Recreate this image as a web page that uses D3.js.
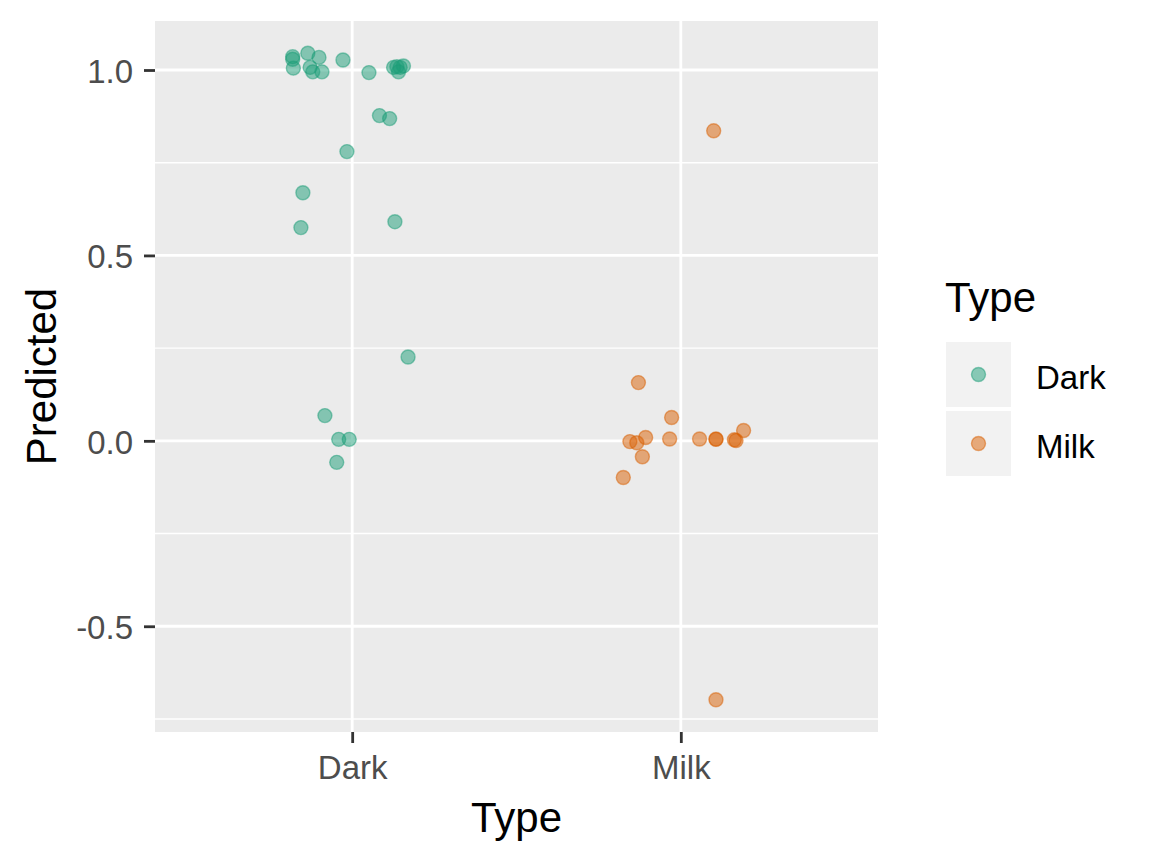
<!DOCTYPE html>
<html>
<head>
<meta charset="utf-8">
<script src="https://cdn.jsdelivr.net/npm/d3@7"></script>
<style>
  body { margin: 0; background: #fff; }
  text { font-family: "Liberation Sans", Arial, sans-serif; }
</style>
</head>
<body>
<div class="main"></div>
<script>
// data
var categories = ['Dark', 'Milk']
var colors = ['#1B9E77', '#D95F02']

// Dark: predicted values and horizontal jitter (in category units)
var darkPred = [1.036, 1.029, 1.005, 1.045, 1.034, 1.007, 0.995, 0.995, 1.027, 0.993,
                1.009, 1.007, 1.011, 0.995, 1.007, 0.877, 0.869, 0.780, 0.669, 0.575,
                0.591, 0.226, 0.068, 0.004, 0.004, -0.058]
var darkJitter = [-0.181, -0.181, -0.179, -0.135, -0.101, -0.128, -0.120, -0.092, -0.028, 0.051,
                  0.136, 0.146, 0.156, 0.141, 0.126, 0.083, 0.114, -0.016, -0.150, -0.156,
                  0.130, 0.170, -0.083, -0.041, -0.009, -0.047]

// Milk
var milkPred = [0.157, 0.063, -0.002, -0.005, 0.009, -0.043, 0.005, -0.099, 0.005, 0.005,
                0.004, 0.003, 0.001, 0.028, 0.836, -0.698]
var milkJitter = [-0.129, -0.028, -0.155, -0.134, -0.107, -0.117, -0.034, -0.175, 0.057, 0.107,
                  0.107, 0.163, 0.168, 0.191, 0.100, 0.107]

var yMajor = [-0.5, 0, 0.5, 1.0]
var yMinor = [-0.75, -0.25, 0.25, 0.75]

var W = 1152, H = 864
var panel = {left: 155, right: 878, top: 21, bottom: 732}

var points = []
darkPred.forEach(function (v, i) { points.push({type: 0, x: 1 + darkJitter[i], y: v}) })
milkPred.forEach(function (v, i) { points.push({type: 1, x: 2 + milkJitter[i], y: v}) })

var svg = d3.select('.main').append('svg').attr('width', W).attr('height', H)

var x = d3.scaleLinear().domain([0.4, 2.6]).range([panel.left, panel.right])
var ext = d3.extent(points, function (d) { return d.y })
var pad = (ext[1] - ext[0]) * 0.05
var y = d3.scaleLinear().domain([ext[0] - pad, ext[1] + pad]).range([panel.bottom, panel.top])

// panel background
svg.append('rect')
  .attr('x', panel.left).attr('y', panel.top)
  .attr('width', panel.right - panel.left).attr('height', panel.bottom - panel.top)
  .attr('fill', '#EBEBEB')

var grid = svg.append('g')
grid.selectAll('line.minor')
    .data(yMinor)
    .enter()
  .append('line')
    .attr('x1', panel.left).attr('x2', panel.right)
    .attr('y1', function (d) { return y(d) }).attr('y2', function (d) { return y(d) })
    .attr('stroke', '#fff').attr('stroke-width', 1.4)
grid.selectAll('line.major')
    .data(yMajor)
    .enter()
  .append('line')
    .attr('x1', panel.left).attr('x2', panel.right)
    .attr('y1', function (d) { return y(d) }).attr('y2', function (d) { return y(d) })
    .attr('stroke', '#fff').attr('stroke-width', 2.8)
grid.selectAll('line.vmajor')
    .data([1, 2])
    .enter()
  .append('line')
    .attr('y1', panel.top).attr('y2', panel.bottom)
    .attr('x1', function (d) { return x(d) }).attr('x2', function (d) { return x(d) })
    .attr('stroke', '#fff').attr('stroke-width', 2.8)

// points
svg.append('g').selectAll('circle')
    .data(points)
    .enter()
  .append('circle')
    .attr('cx', function (d) { return x(d.x) })
    .attr('cy', function (d) { return y(d.y) })
    .attr('r', 7)
    .attr('fill', function (d) { return colors[d.type] })
    .attr('fill-opacity', 0.5)
    .attr('stroke', function (d) { return colors[d.type] })
    .attr('stroke-opacity', 0.5)
    .attr('stroke-width', 1.4)

// axes
var yAxis = svg.append('g')
  .attr('transform', 'translate(' + panel.left + ',0)')
  .call(d3.axisLeft(y).tickValues(yMajor).tickSize(11).tickPadding(11)
    .tickFormat(function (d) { return d3.format('.1f')(d).replace('−', '-') }))
yAxis.select('.domain').remove()
yAxis.selectAll('line').attr('stroke', '#333333').attr('stroke-width', 2.8)
yAxis.selectAll('text').attr('fill', '#4D4D4D').attr('font-size', 33).attr('dy', '0.38em')
  .style('font-family', '"Liberation Sans", Arial, sans-serif')

var xAxis = svg.append('g')
  .attr('transform', 'translate(0,' + panel.bottom + ')')
  .call(d3.axisBottom(x).tickValues([1, 2]).tickSize(11).tickPadding(12.5)
    .tickFormat(function (d) { return categories[d - 1] }))
xAxis.select('.domain').remove()
xAxis.selectAll('line').attr('stroke', '#333333').attr('stroke-width', 2.8)
xAxis.selectAll('text').attr('fill', '#4D4D4D').attr('font-size', 33)
  .style('font-family', '"Liberation Sans", Arial, sans-serif')

// axis titles
svg.append('text')
  .attr('x', (panel.left + panel.right) / 2).attr('y', 832)
  .attr('text-anchor', 'middle').attr('font-size', 42).attr('fill', '#000')
  .text('Type')
svg.append('text')
  .attr('transform', 'translate(56,' + (panel.top + panel.bottom) / 2 + ') rotate(-90)')
  .attr('text-anchor', 'middle').attr('font-size', 42).attr('fill', '#000')
  .text('Predicted')

// legend
var legend = svg.append('g')
legend.append('text')
  .attr('x', 945).attr('y', 312)
  .attr('font-size', 42).attr('fill', '#000')
  .text('Type')
var keys = legend.selectAll('g.key')
    .data(categories)
    .enter()
  .append('g')
    .attr('transform', function (d, i) { return 'translate(946,' + (342 + i * 69) + ')' })
keys.append('rect')
  .attr('width', 65).attr('height', 65).attr('fill', '#F2F2F2')
keys.append('circle')
  .attr('cx', 32.5).attr('cy', 32.5).attr('r', 7)
  .attr('fill', function (d, i) { return colors[i] }).attr('fill-opacity', 0.5)
  .attr('stroke', function (d, i) { return colors[i] }).attr('stroke-opacity', 0.5)
  .attr('stroke-width', 1.4)
keys.append('text')
  .attr('x', 90).attr('y', 47)
  .attr('font-size', 33).attr('fill', '#000')
  .text(function (d) { return d })
</script>
</body>
</html>
